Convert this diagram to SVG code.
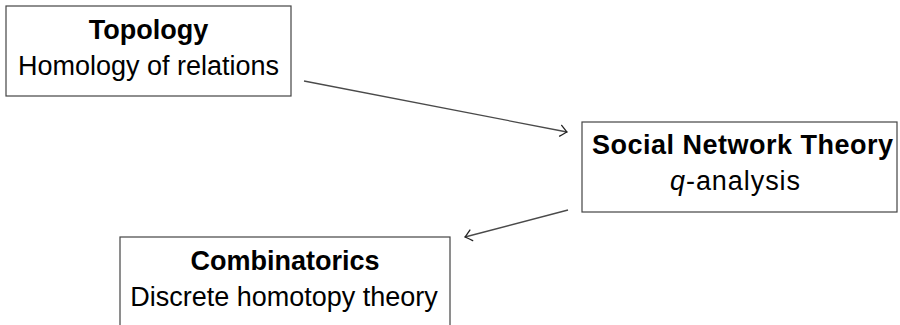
<svg xmlns="http://www.w3.org/2000/svg" width="900" height="325" viewBox="0 0 900 325">
  <style>
    .box { fill: #ffffff; stroke: #444444; stroke-width: 1.2; }
    .title { font-family: "Liberation Sans", Arial, sans-serif; font-weight: bold; font-size: 27px; fill: #000000; text-anchor: middle; }
    .sub { font-family: "Liberation Sans", Arial, sans-serif; font-size: 27px; fill: #000000; text-anchor: middle; }
    .edge { fill: none; stroke: #4a4a4a; stroke-width: 1.3; }
  </style>
  <defs>
    <marker id="arrow" markerUnits="userSpaceOnUse" markerWidth="16" markerHeight="16" viewBox="-10 -8 12 16" refX="0" refY="0" orient="auto">
      <path d="M -6.5,-5.5 Q -1.5,-1.2 0,0 Q -1.5,1.2 -6.5,5.5" fill="none" stroke="#222222" stroke-width="1.3" stroke-linecap="round"/>
    </marker>
  </defs>
  <rect width="900" height="325" fill="#ffffff"/>
  <g id="topology">
    <rect class="box" x="6" y="6" width="285" height="90"/>
    <text class="title" x="148.5" y="39">Topology</text>
    <text class="sub" x="148.5" y="75">Homology of relations</text>
  </g>
  <g id="social-network-theory">
    <rect class="box" x="582" y="122" width="315" height="90"/>
    <text class="title" x="742.5" y="154" textLength="301" lengthAdjust="spacing">Social Network Theory</text>
    <text class="sub" x="735" y="190" textLength="130" lengthAdjust="spacing"><tspan font-style="italic">q</tspan>-analysis</text>
  </g>
  <g id="combinatorics">
    <rect class="box" x="120" y="237" width="330" height="100"/>
    <text class="title" x="285" y="270">Combinatorics</text>
    <text class="sub" x="284" y="306">Discrete homotopy theory</text>
  </g>
  <g id="connectors">
    <line class="edge" x1="304" y1="81" x2="567" y2="132" marker-end="url(#arrow)"/>
    <line class="edge" x1="568" y1="210" x2="465" y2="237" marker-end="url(#arrow)"/>
  </g>
</svg>
